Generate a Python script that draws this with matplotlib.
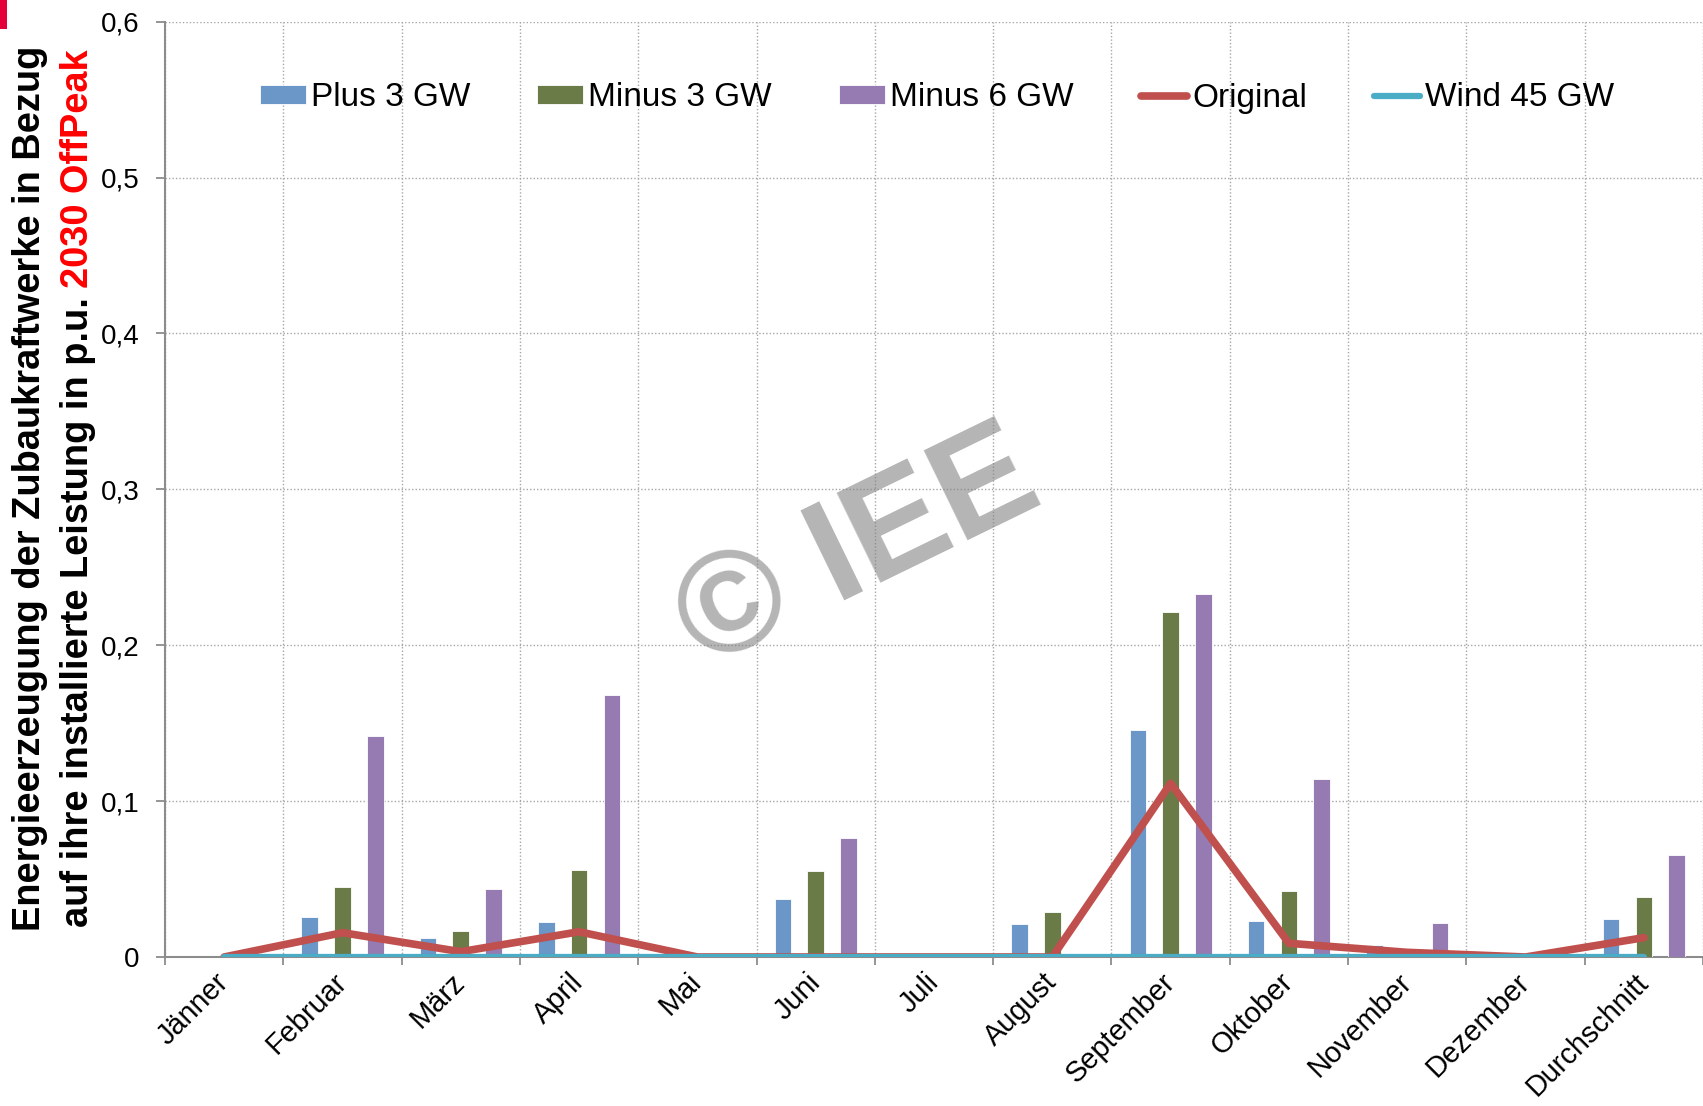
import numpy as np
import matplotlib
matplotlib.use('Agg')
import matplotlib.pyplot as plt
from matplotlib.ticker import FixedLocator, FuncFormatter
from matplotlib.patches import Rectangle
from matplotlib import font_manager as fm

W, H = 1703, 1106

# ── Data ──────────────────────────────────────────────────────────
months = ['Jänner', 'Februar', 'März', 'April', 'Mai', 'Juni', 'Juli',
          'August', 'September', 'Oktober', 'November', 'Dezember', 'Durchschnitt']
plus_3gw  = [0, 0.0255, 0.012, 0.0227, 0, 0.037, 0, 0.021, 0.1456, 0.0231, 0.0077, 0, 0.0242]
minus_3gw = [0, 0.0451, 0.0167, 0.0556, 0, 0.055, 0, 0.0289, 0.2215, 0.0423, 0, 0, 0.0383]
minus_6gw = [0, 0.1416, 0.0436, 0.1683, 0, 0.0761, 0, 0, 0.2326, 0.114, 0.0218, 0, 0.0652]
original  = [0, 0.0156, 0.0034, 0.0162, 0, 0, 0, 0, 0.1114, 0.0088, 0.003, 0, 0.0124]
wind_45gw = [0, 0, 0, 0, 0, 0, 0, 0, 0, 0, 0, 0, 0]

YLABEL_1 = 'Energieerzeugung der Zubaukraftwerke in Bezug'
YLABEL_2A = 'auf ihre installierte Leistung in p.u.'
YLABEL_2B = '2030 OffPeak'

BLUE, GREEN, PURPLE = '#6B96C8', '#6B7B48', '#957BB1'
RED, CYAN = '#C0504D', '#4BACC6'
GRID_C, SPINE_C = '#A6A6A6', '#8C8C8C'

names = {f.name for f in fm.fontManager.ttflist}
BASE = 'Liberation Sans' if 'Liberation Sans' in names else 'DejaVu Sans'
if 'Liberation Sans Narrow' in names:
    NARROW, STRETCH = 'Liberation Sans Narrow', 'normal'
else:
    NARROW, STRETCH = BASE, 'condensed'
plt.rcParams['font.family'] = [BASE, 'DejaVu Sans']

fig = plt.figure(figsize=(W / 100, H / 100), dpi=100)
ax = fig.add_axes([165 / W, 149 / H, (W - 165) / W, (957 - 21.7) / H])

x = np.arange(len(months))
bw, off = 0.14, 0.277
b1 = ax.bar(x - off, plus_3gw, bw, color=BLUE, edgecolor='white', linewidth=0.6, label='Plus 3 GW', zorder=2)
b2 = ax.bar(x, minus_3gw, bw, color=GREEN, edgecolor='white', linewidth=0.6, label='Minus 3 GW', zorder=2)
b3 = ax.bar(x + off, minus_6gw, bw, color=PURPLE, edgecolor='white', linewidth=0.6, label='Minus 6 GW', zorder=2)
l1, = ax.plot(x, original, color=RED, lw=5.5, solid_capstyle='round', label='Original', zorder=3)
l2, = ax.plot(x, wind_45gw, color=CYAN, lw=4.5, solid_capstyle='round', label='Wind 45 GW', zorder=4)

ax.set_xlim(-0.5, len(months) - 0.5)
ax.set_ylim(0, 0.6)
ax.yaxis.set_major_locator(FixedLocator(np.arange(0, 0.61, 0.1)))
ax.yaxis.set_major_formatter(FuncFormatter(
    lambda v, p: '0' if abs(v) < 1e-9 else f'{v:.1f}'.replace('.', ',')))
ax.set_xticks(x)
ax.set_xticklabels(months, rotation=45, ha='right', va='center',
                   rotation_mode='anchor', fontsize=20.8)
ax.xaxis.set_minor_locator(FixedLocator(np.arange(-0.5, len(months), 1.0)))
ax.tick_params(axis='x', which='major', length=0, pad=15)
ax.tick_params(axis='x', which='minor', length=6, width=1.3, color=SPINE_C, direction='out')
ax.tick_params(axis='y', length=6.5, width=1.3, color=SPINE_C, labelsize=20, pad=12)

ax.grid(True, axis='y', which='major', color=GRID_C, linestyle=(0, (1, 1.5)), linewidth=1)
ax.grid(True, axis='x', which='minor', color=GRID_C, linestyle=(0, (1, 1.5)), linewidth=1)
ax.set_axisbelow(True)
for s in ('top', 'right'):
    ax.spines[s].set_visible(False)
for s in ('left', 'bottom'):
    ax.spines[s].set_color(SPINE_C)
    ax.spines[s].set_linewidth(1.5)
    ax.spines[s].set_zorder(1)

ax.legend(handles=[b1, b2, b3, l1, l2], ncol=5, loc='center',
          bbox_to_anchor=(937 / W, 1 - 98 / H), bbox_transform=fig.transFigure,
          frameon=False, fontsize=24, handlelength=1.38, handleheight=0.48,
          handletextpad=0.15, columnspacing=2.02, borderpad=0, borderaxespad=0)

# watermark
fig.text(859 / W, 1 - 552 / H, '© IEE', rotation=26, rotation_mode='anchor',
         ha='center', va='center', fontsize=104.5, fontweight='bold',
         color='#7F7F7F', alpha=0.58, zorder=5)

# red corner mark
fig.patches.append(Rectangle((0, 1 - 29 / H), 7 / W, 29 / H, transform=fig.transFigure,
                             facecolor='#E4003A', edgecolor='none'))

# ── Y label (two lines, last words in red) ────────────────────────
r = fig.canvas.get_renderer()
target = 887.0
fs = 26
t1 = fig.text(30 / W, 1 - 488 / H, YLABEL_1, rotation=90, ha='center', va='center',
              fontsize=fs, fontweight='bold', family=NARROW, fontstretch=STRETCH)
fs = fs * target / t1.get_window_extent(r).height
t1.set_fontsize(fs)

ta = fig.text(0, 0, YLABEL_2A, rotation=90, rotation_mode='anchor', ha='left', va='baseline',
              fontsize=fs, fontweight='bold', family=NARROW, fontstretch=STRETCH)
tb = fig.text(0, 0, YLABEL_2B, rotation=90, rotation_mode='anchor', ha='left', va='baseline',
              fontsize=fs, fontweight='bold', family=NARROW, fontstretch=STRETCH, color='red')
gap = 0.25 * fs * 100 / 72
la = ta.get_window_extent(r).height
lb = tb.get_window_extent(r).height
total = la + gap + lb
base_x = 74 + 0.36 * fs * 100 / 72
start = (H - 488) - total / 2
ta.set_position((base_x / W, start / H))
tb.set_position((base_x / W, (start + la + gap) / H))

fig.savefig('out.png', dpi=100, facecolor='white')
